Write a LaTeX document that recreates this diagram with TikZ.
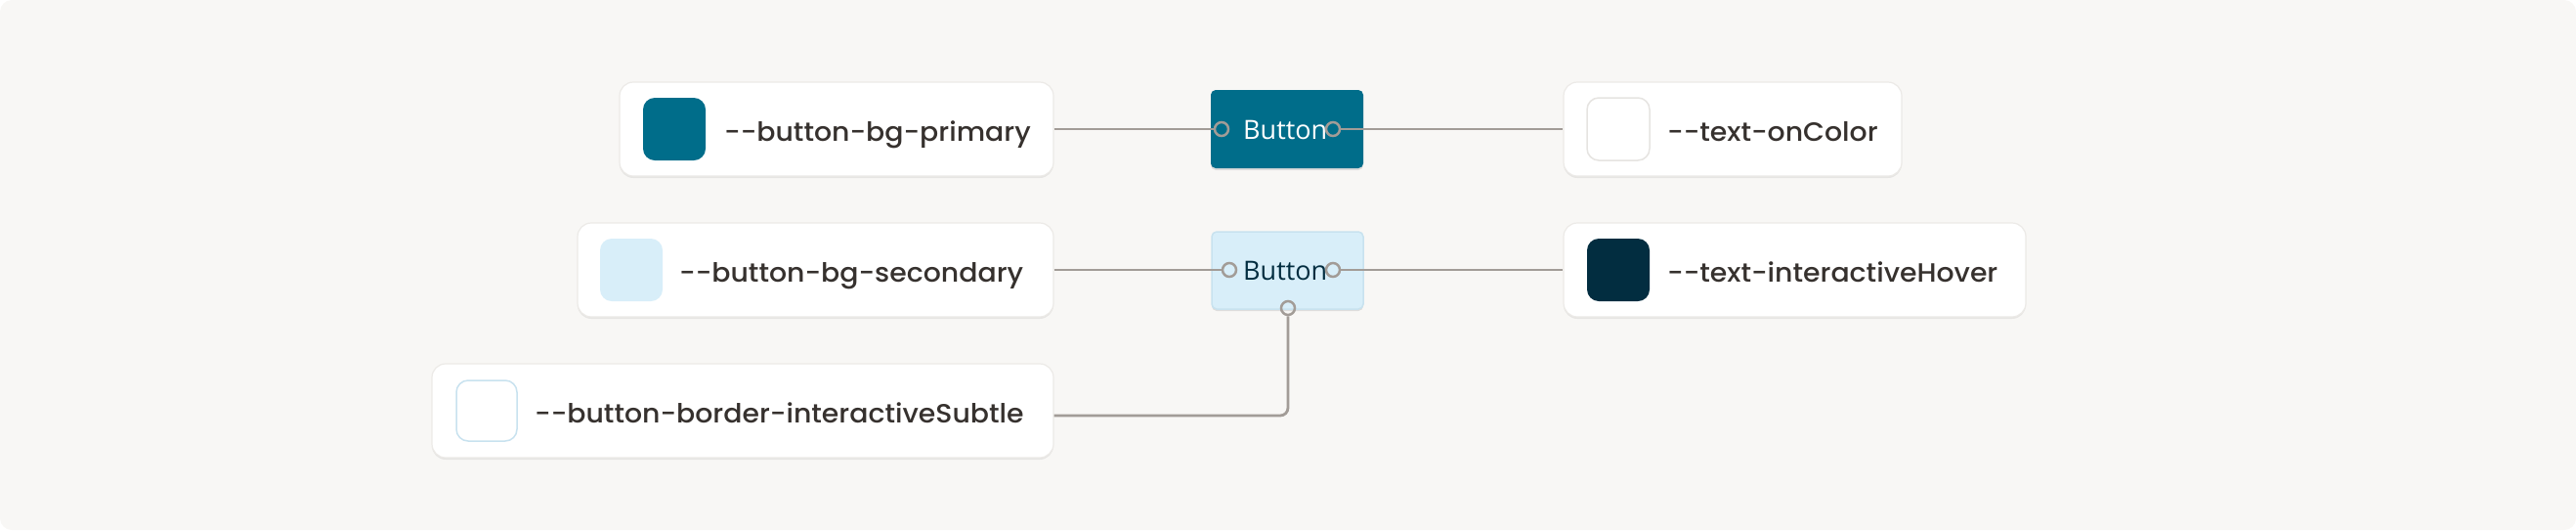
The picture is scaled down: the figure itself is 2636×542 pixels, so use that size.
\documentclass[tikz,border=0pt]{standalone}
\usepackage{fontspec}
\setmainfont{Poppins}[Ligatures=TeXOff]
\newfontfamily\lblfont{Poppins}[UprightFont=* Medium, Ligatures=TeXOff, FakeStretch=1.05]
\newfontfamily\btnfont{Open Sans}
\usetikzlibrary{shadows}
\definecolor{bgc}{HTML}{F8F7F5}
\definecolor{cardborder}{HTML}{ECEAE7}
\definecolor{teal}{HTML}{006D8A}
\definecolor{lightblue}{HTML}{D8EEF9}
\definecolor{navy}{HTML}{022D40}
\definecolor{wire}{HTML}{A29C97}
\definecolor{ink}{HTML}{36312E}
\definecolor{subtleblue}{HTML}{C8E2EF}
\definecolor{whiteborder}{HTML}{E6E4E1}
\begin{document}
\begin{tikzpicture}[x=1pt,y=-1pt,
  card/.style={draw=cardborder, line width=1.2pt, fill=white, rounded corners=14pt,
    drop shadow={shadow xshift=0pt, shadow yshift=-2pt, opacity=0.07, fill=black},
    inner sep=0pt, minimum height=96pt},
  swatch/.style={rounded corners=12pt, minimum width=64pt, minimum height=64pt, inner sep=0pt},
  lbl/.style={font=\lblfont\fontsize{27}{30}\selectfont, text=ink, inner sep=0pt, anchor=base west},
  btn/.style={rounded corners=5pt, minimum width=156pt, minimum height=80pt, inner sep=0pt,
    drop shadow={shadow xshift=0pt, shadow yshift=-2pt, opacity=0.10, fill=black}},
  btntext/.style={font=\btnfont\fontsize{27}{30}\selectfont, inner sep=0pt, anchor=base west},
  port/.style={circle, draw=wire, line width=2.5pt, minimum size=14pt, inner sep=0pt},
  conn/.style={draw=wire, line width=2.8pt}
]
\useasboundingbox (0,0) rectangle (2636,542);
\fill[bgc, rounded corners=12pt] (0,0) rectangle (2636,542);

% left cards
\node[card, minimum width=444pt] (c1) at (856,132) {};
\node[card, minimum width=487pt] (c2) at (834.5,276) {};
\node[card, minimum width=636pt] (c3) at (760,420) {};
% right cards
\node[card, minimum width=346pt] (c4) at (1773,132) {};
\node[card, minimum width=473pt] (c5) at (1836.5,276) {};

% swatches
\node[swatch, fill=teal] (s1) at (690,132) {};
\node[swatch, fill=lightblue] (s2) at (646,276) {};
\node[swatch, fill=white, draw=subtleblue, line width=1.5pt, minimum width=62pt, minimum height=62pt] (s3) at (498,420) {};
\node[swatch, fill=white, draw=whiteborder, line width=1.5pt, minimum width=64pt, minimum height=64pt] (s4) at (1656,132) {};
\node[swatch, fill=navy] (s5) at (1656,276) {};

% labels
\node[lbl] (t1) at (741,144) {--button-bg-primary};
\node[lbl] (t2) at (695,288) {--button-bg-secondary};
\node[lbl] (t3) at (547,432) {--button-border-interactiveSubtle};
\node[lbl] (t4) at (1706,144) {--text-onColor};
\node[lbl] (t5) at (1706,288) {--text-interactiveHover};

% buttons
\node[btn, fill=teal] (b1) at (1317,132) {};
\node[btntext, text=white] (bt1) at (1272,142) {Button};
\node[btn, fill=lightblue, draw=subtleblue, line width=1.5pt, minimum width=155pt, minimum height=79pt] (b2) at (1317.5,276.5) {};
\node[btntext, text=navy] (bt2) at (1272,286.5) {Button};

% ports
\node[port] (p1l) at (1250,132) {};
\node[port] (p1r) at (1364,132) {};
\node[port] (p2l) at (1258,276) {};
\node[port] (p2r) at (1364,276) {};
\node[port] (p2b) at (1318,315) {};

% connectors
\draw[conn] (c1.east) -- (p1l.west);
\draw[conn] (p1r.east) -- (c4.west);
\draw[conn] (c2.east) -- (p2l.west);
\draw[conn] (p2r.east) -- (c5.west);
\draw[conn, rounded corners=8pt] (p2b.south) |- ([yshift=-5pt]c3.east);
\end{tikzpicture}
\end{document}
